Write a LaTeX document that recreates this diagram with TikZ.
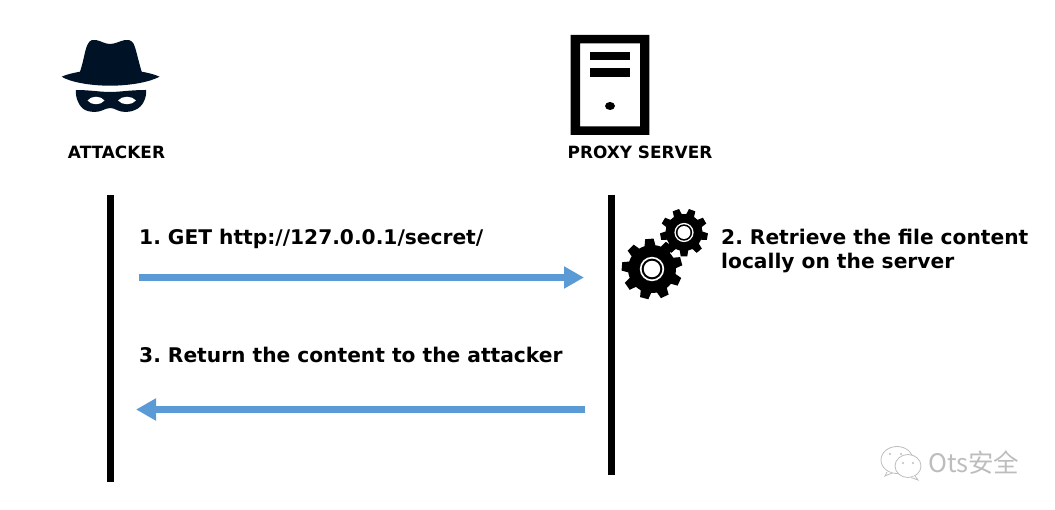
\documentclass[tikz,border=0pt]{standalone}
\usepackage{fontspec}
\setmainfont{DejaVu Sans}
\newfontfamily\cjkfont{Noto Sans CJK SC}
\usetikzlibrary{arrows.meta}
\definecolor{hatnavy}{HTML}{001226}
\definecolor{msgblue}{HTML}{5B9BD5}
\definecolor{markgray}{HTML}{BDBDBD}
\tikzset{
  lifeline/.style={line width=7pt},
  message/.style={msgblue,line width=7pt,-{Triangle[length=20pt,width=21pt]}},
  caption/.style={font=\fontsize{16.9}{20}\selectfont\bfseries,inner sep=0pt},
  msgtext/.style={font=\fontsize{20.2}{24}\selectfont\bfseries,inner sep=0pt,anchor=west,align=left},
  bubble/.style={draw=markgray,line width=.8pt,fill=white},
  pics/gearicon/.style n args={3}{code={
    \fill[black] ({#3-8}:#1)
      \foreach \k in {0,...,8} {
        -- ({#3+\k*40-8}:#1) -- ({#3+\k*40+8}:#1) -- ({#3+\k*40+13}:#2)
        arc[start angle={#3+\k*40+13},delta angle=14,radius=#2]
      } -- cycle;
    \fill[white] (0,0) circle[radius=.4*#1];
    \fill[black] (0,0) circle[radius=.34*#1];
    \fill[white] (0,0) circle[radius=.27*#1];
  }}
}
\begin{document}
\frenchspacing
\begin{tikzpicture}[x=1pt,y=-1pt]
\useasboundingbox (0,0) rectangle (1055,510);
%
% attacker icon
\fill[hatnavy] (61.7,76.7) .. controls (66,74.5) and (74,72.8) .. (80,71.7)
  .. controls (84,60) and (85,48) .. (88.3,43.3) .. controls (90,40) and (93,39.5) .. (96,40)
  .. controls (101,41) and (105,44) .. (110,44) .. controls (115,44) and (120,41) .. (125,40)
  .. controls (128,39.5) and (131,40) .. (133.3,43.3) .. controls (136,48) and (138,60) .. (141.7,71.7)
  .. controls (148,72.8) and (155,74.5) .. (159.5,76.7) .. controls (150,82) and (130,85.7) .. (110,85.7)
  .. controls (90,85.7) and (70,82) .. (61.7,76.7) -- cycle;
\fill[hatnavy] (76,90) .. controls (90,90) and (100,92) .. (110,92) .. controls (120,92) and (130,90) .. (146,90)
  .. controls (147,97) and (143,107) .. (135,110) .. controls (130,112.5) and (122,112.5) .. (118,110.5)
  .. controls (115,109) and (112.5,108) .. (110.5,108) .. controls (108,108) and (105,109) .. (102,110.5)
  .. controls (98,112.5) and (90,112.5) .. (85,110) .. controls (79,107) and (75,97) .. (76,90) -- cycle;
\fill[white] (87.5,100.5) .. controls (91,95.5) and (101,95.5) .. (104.5,100.5) .. controls (101,105.5) and (91,105.5) .. (87.5,100.5) -- cycle;
\fill[white] (118,100.5) .. controls (122,95.5) and (132,95.5) .. (136,100.5) .. controls (132,105.5) and (122,105.5) .. (118,100.5) -- cycle;
\node[caption] (attacker) at (116.5,152.5) {ATTACKER};
%
% server icon
\fill[black,even odd rule] (570.7,35) rectangle (649.3,135) (580,43.5) rectangle (640,126.5);
\fill[black] (590,51.7) rectangle (630,60.5);
\fill[black] (590,68.3) rectangle (630,77);
\fill[black] (610,106) ellipse[x radius=5,y radius=4];
\node[caption] (proxy) at (640,152.5) {PROXY SERVER};
%
% lifelines
\coordinate (attackerTop) at (110.5,195);
\coordinate (attackerEnd) at (110.5,482);
\coordinate (proxyTop) at (611.3,195);
\coordinate (proxyEnd) at (611.3,475);
\draw[lifeline] (attackerTop) -- (attackerEnd);
\draw[lifeline] (proxyTop) -- (proxyEnd);
%
% messages
\coordinate (getFrom) at (139,277.5);
\coordinate (getTo) at (584,277.5);
\coordinate (returnFrom) at (585,409.5);
\coordinate (returnTo) at (136,409.5);
\draw[message] (getFrom) -- (getTo);
\draw[message] (returnFrom) -- (returnTo);
\node[msgtext] (getText) at (139,238.5) {1. GET http://127.0.0.1/secret/};
\node[msgtext] (returnText) at (139,355) {3. Return the content to the attacker};
\node[msgtext] (retrieveText) at (721,251) {2. Retrieve the file content\\locally on the server};
%
% gears
\pic at (684,232.5) {gearicon={24}{18.5}{10}};
\pic at (652,269) {gearicon={30.5}{24}{-15}};
%
% watermark
\draw[bubble] (897,460) ellipse[x radius=16,y radius=13.5];
\draw[bubble] (887,472) -- (885,476) -- (892,473);
\draw[bubble] (908,466) ellipse[x radius=13,y radius=11.5];
\draw[bubble] (915,476) -- (918,480) -- (911,477.5);
\fill[markgray] (890,454) circle[radius=1.2] (901,454) circle[radius=1.2]
  (903,463) circle[radius=1.2] (913,463) circle[radius=1.2];
\node[inner sep=0pt,anchor=west,text=markgray,font=\fontsize{25.5}{30}\selectfont\cjkfont] (mark) at (928,463) {Ots安全};
\end{tikzpicture}
\end{document}
